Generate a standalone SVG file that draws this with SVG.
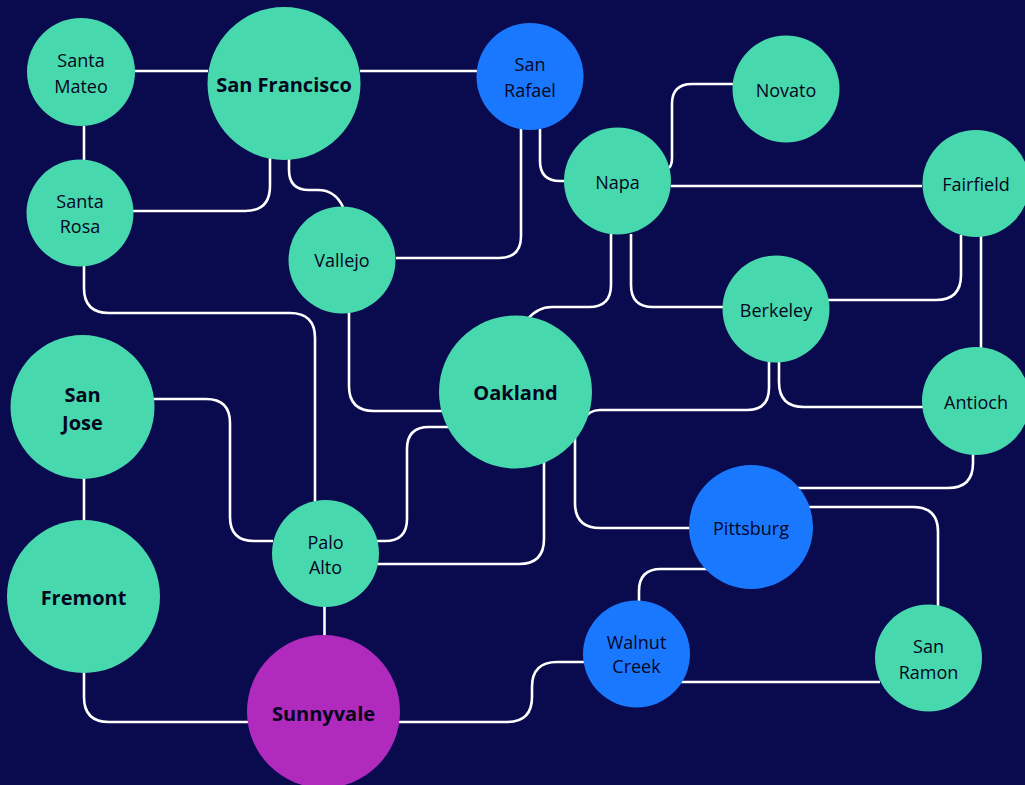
<svg xmlns="http://www.w3.org/2000/svg" width="1025" height="785" viewBox="0 0 1025 785">
<style>
.e{fill:none;stroke:#ffffff;stroke-width:2.6}
.t{fill:#48d8ae}
.b{fill:#1a78ff}
.p{fill:#b02abe}
text{font-family:"Open Sans","Noto Sans",sans-serif;font-size:18px;fill:#05051e;text-anchor:middle}
.bold{font-weight:bold;font-size:20px}
</style>
<rect width="1025" height="785" fill="#0a0a4e"/>
<g id="connectors">
<path class="e" d="M135,71 H208"/>
<path class="e" d="M360,71 H478"/>
<path class="e" d="M84,126 V160"/>
<path class="e" d="M270,158 V186 Q270,211 245,211 H133"/>
<path class="e" d="M289,158 V170 Q289,190 309,190 H318 Q335,190 343,207"/>
<path class="e" d="M521,129 V236 Q521,258 499,258 H396"/>
<path class="e" d="M540,129 V161 Q540,181 560,181 H566"/>
<path class="e" d="M669,168 Q672,165 672,158 V104 Q672,84 692,84 H733"/>
<path class="e" d="M671,186 H922"/>
<path class="e" d="M611,234 V285 Q611,307 589,307 H552 Q537,307 527,320"/>
<path class="e" d="M631,234 V285 Q631,307 653,307 H724"/>
<path class="e" d="M961,235 V275 Q961,300 936,300 H828"/>
<path class="e" d="M981,236 V348"/>
<path class="e" d="M769,361 V388 Q769,410 747,410 H600 Q589,410 583,420"/>
<path class="e" d="M779,361 V382 Q779,407 804,407 H923"/>
<path class="e" d="M973,454 V463 Q973,488 948,488 H797"/>
<path class="e" d="M806,507 H913 Q938,507 938,532 V606"/>
<path class="e" d="M575,436 V503 Q575,528 600,528 H690"/>
<path class="e" d="M544,455 V539 Q544,564 519,564 H377"/>
<path class="e" d="M452,427 H429 Q407,427 407,449 V519 Q407,541 385,541 H376"/>
<path class="e" d="M349,312 V386 Q349,411 374,411 H445"/>
<path class="e" d="M84,266 V288 Q84,313 109,313 H290 Q315,313 315,338 V502"/>
<path class="e" d="M153,399 H206 Q230,399 230,423 V517 Q230,541 254,541 H273"/>
<path class="e" d="M84,478 V521"/>
<path class="e" d="M84,672 V697 Q84,722 109,722 H248"/>
<path class="e" d="M324.5,606 V637"/>
<path class="e" d="M399,722 H507 Q532,722 532,697 V687 Q532,662 557,662 H584"/>
<path class="e" d="M680,682 H880"/>
<path class="e" d="M639,601 V591 Q639,569 661,569 H708"/>
</g>
<g id="santa-mateo"><circle class="t" cx="81" cy="72" r="54"/><text x="81" y="67">Santa</text><text x="81" y="93">Mateo</text></g>
<g id="san-francisco"><circle class="t" cx="284" cy="83.5" r="76.5"/><text class="bold" x="284" y="92">San Francisco</text></g>
<g id="santa-rosa"><circle class="t" cx="80" cy="213" r="53.5"/><text x="80" y="208">Santa</text><text x="80" y="233">Rosa</text></g>
<g id="vallejo"><circle class="t" cx="342" cy="260" r="53.5"/><text x="342" y="267">Vallejo</text></g>
<g id="san-rafael"><circle class="b" cx="530" cy="76.5" r="53.5"/><text x="530" y="71">San</text><text x="530" y="97">Rafael</text></g>
<g id="novato"><circle class="t" cx="786" cy="89" r="53.5"/><text x="786" y="97">Novato</text></g>
<g id="napa"><circle class="t" cx="617.5" cy="181" r="53.5"/><text x="617.5" y="189">Napa</text></g>
<g id="fairfield"><circle class="t" cx="976" cy="183.5" r="53.5"/><text x="976" y="191">Fairfield</text></g>
<g id="berkeley"><circle class="t" cx="776" cy="309" r="53.5"/><text x="776" y="317">Berkeley</text></g>
<g id="oakland"><circle class="t" cx="515.5" cy="392" r="76.5"/><text class="bold" x="515.5" y="400">Oakland</text></g>
<g id="antioch"><circle class="t" cx="976" cy="401" r="54"/><text x="976" y="409">Antioch</text></g>
<g id="pittsburg"><circle class="b" cx="751" cy="527" r="62"/><text x="751" y="535">Pittsburg</text></g>
<g id="walnut-creek"><circle class="b" cx="636.5" cy="654" r="53.5"/><text x="636.5" y="649">Walnut</text><text x="636.5" y="673">Creek</text></g>
<g id="san-ramon"><circle class="t" cx="928.5" cy="658" r="53.5"/><text x="928.5" y="653">San</text><text x="928.5" y="679">Ramon</text></g>
<g id="san-jose"><circle class="t" cx="82.5" cy="407" r="72"/><text class="bold" x="82.5" y="402">San</text><text class="bold" x="82.5" y="430">Jose</text></g>
<g id="fremont"><circle class="t" cx="83.5" cy="596.5" r="76.5"/><text class="bold" x="83.5" y="605">Fremont</text></g>
<g id="palo-alto"><circle class="t" cx="325.5" cy="553.5" r="53.5"/><text x="325.5" y="549">Palo</text><text x="325.5" y="574">Alto</text></g>
<g id="sunnyvale"><circle class="p" cx="323.5" cy="711.5" r="76.5"/><text class="bold" x="323.5" y="721">Sunnyvale</text></g>
</svg>
